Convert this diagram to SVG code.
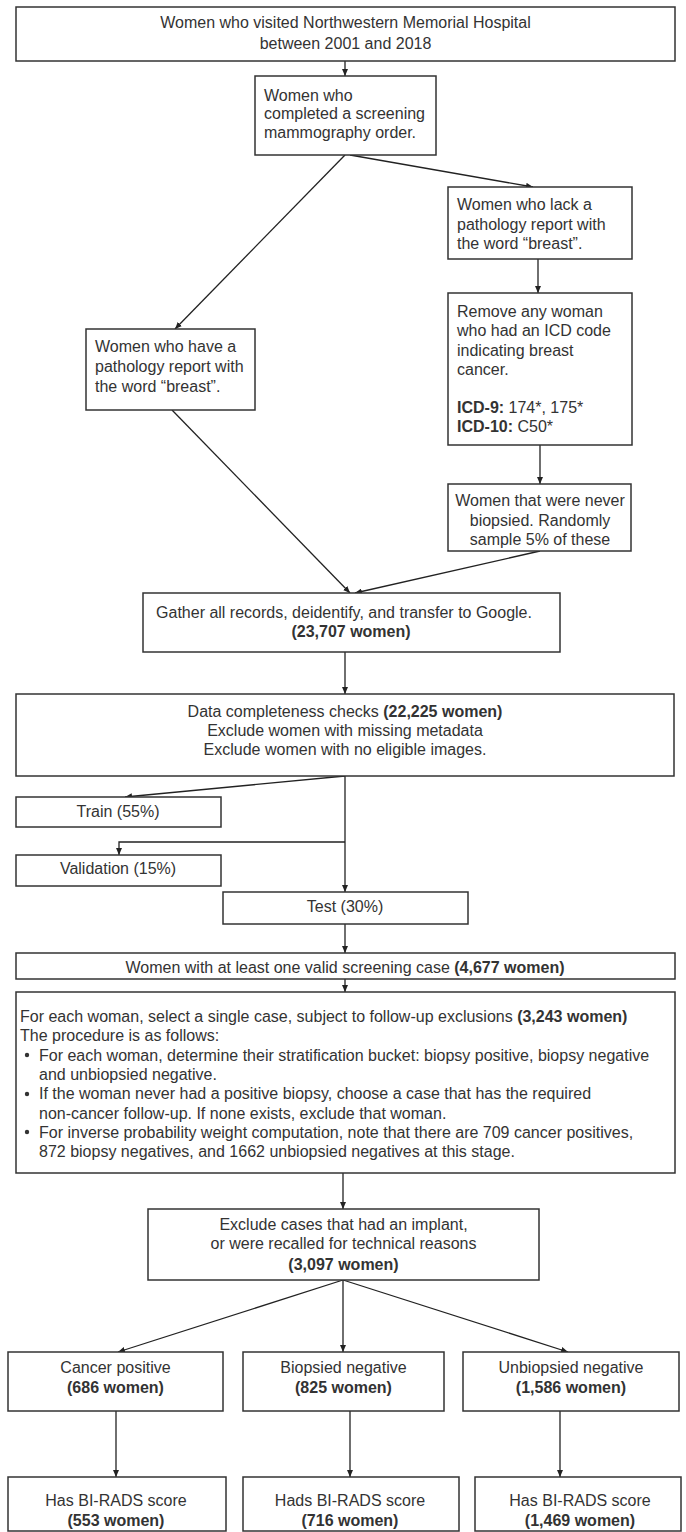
<svg xmlns="http://www.w3.org/2000/svg" width="686" height="1532" viewBox="0 0 686 1532">
<style>
.box{fill:#fff;stroke:#333;stroke-width:1.5}
text{font-family:"Liberation Sans",Arial,sans-serif;font-size:16px;fill:#333}
.c{text-anchor:middle}
.b{font-weight:bold}
.ln{fill:none;stroke:#222;stroke-width:1.3}
</style>
<defs>
<marker id="ah" markerUnits="userSpaceOnUse" markerWidth="8" markerHeight="6" refX="7" refY="3" orient="auto">
<path d="M0,0 L7,3 L0,6 z" fill="#222"/>
</marker>
</defs>
<rect width="686" height="1532" fill="#fff"/>

<g id="connectors" class="ln" marker-end="url(#ah)">
<path d="M345,61 L345,76"/>
<path d="M345,155 L175,329"/>
<path d="M350,155 L533,187"/>
<path d="M538,259 L538,293"/>
<path d="M540,445 L540,484"/>
<path d="M172,410 L350,593"/>
<path d="M540,551 L355,593"/>
<path d="M345,652 L345,694"/>
<path d="M345,776 L125,797"/>
<path d="M345,776 L345,892"/>
<path d="M345,842 L119,842 L119,855"/>
<path d="M345,924 L345,953"/>
<path d="M345,979 L345,992"/>
<path d="M343,1173 L343,1209"/>
<path d="M343,1280 L118,1352"/>
<path d="M343,1280 L343,1352"/>
<path d="M343,1280 L568,1352"/>
<path d="M116,1411 L116,1477"/>
<path d="M350,1411 L350,1477"/>
<path d="M560,1411 L560,1477"/>
</g>

<g id="n1"><rect class="box" x="16" y="7" width="659" height="54"/>
<text class="c" x="345.5" y="28">Women who visited Northwestern Memorial Hospital</text>
<text class="c" x="345.5" y="49">between 2001 and 2018</text></g>

<g id="n2"><rect class="box" x="255" y="76" width="181" height="79"/>
<text x="264" y="101">Women who</text>
<text x="264" y="119">completed a screening</text>
<text x="264" y="138">mammography order.</text></g>

<g id="n3"><rect class="box" x="448" y="187" width="184" height="72"/>
<text x="457" y="210">Women who lack a</text>
<text x="457" y="230">pathology report with</text>
<text x="457" y="249">the word “breast”.</text></g>

<g id="n4"><rect class="box" x="86" y="329" width="169" height="81"/>
<text x="95" y="352">Women who have a</text>
<text x="95" y="372">pathology report with</text>
<text x="95" y="392">the word “breast”.</text></g>

<g id="n5"><rect class="box" x="448" y="293" width="184" height="152"/>
<text x="457" y="317">Remove any woman</text>
<text x="457" y="336">who had an ICD code</text>
<text x="457" y="356">indicating breast</text>
<text x="457" y="375">cancer.</text>
<text x="457" y="413"><tspan class="b">ICD-9:</tspan> 174*, 175*</text>
<text x="457" y="432"><tspan class="b">ICD-10:</tspan> C50*</text></g>

<g id="n6"><rect class="box" x="448" y="484" width="183" height="67"/>
<text class="c" x="540" y="506">Women that were never</text>
<text class="c" x="540" y="526">biopsied. Randomly</text>
<text class="c" x="540" y="545">sample 5% of these</text></g>

<g id="n7"><rect class="box" x="143" y="593" width="417" height="59"/>
<text class="c" x="344" y="618">Gather all records, deidentify, and transfer to Google.</text>
<text class="c b" x="351" y="637">(23,707 women)</text></g>

<g id="n8"><rect class="box" x="16" y="694" width="658" height="82"/>
<text class="c" x="345" y="717">Data completeness checks <tspan class="b">(22,225 women)</tspan></text>
<text class="c" x="345" y="736">Exclude women with missing metadata</text>
<text class="c" x="345" y="755">Exclude women with no eligible images.</text></g>

<g id="n9"><rect class="box" x="16" y="797" width="205" height="30"/>
<text class="c" x="118" y="817">Train (55%)</text></g>

<g id="n10"><rect class="box" x="16" y="855" width="205" height="31"/>
<text class="c" x="118" y="874">Validation (15%)</text></g>

<g id="n11"><rect class="box" x="223" y="892" width="245" height="32"/>
<text class="c" x="345" y="912">Test (30%)</text></g>

<g id="n12"><rect class="box" x="16" y="953" width="659" height="26"/>
<text class="c" x="345" y="973">Women with at least one valid screening case <tspan class="b">(4,677 women)</tspan></text></g>

<g id="n13"><rect class="box" x="16" y="992" width="659" height="181"/>
<text x="20" y="1022">For each woman, select a single case, subject to follow-up exclusions <tspan class="b">(3,243 women)</tspan></text>
<text x="20" y="1041">The procedure is as follows:</text>
<circle cx="27" cy="1055" r="2.2" fill="#333"/>
<text x="39" y="1060.5">For each woman, determine their stratification bucket: biopsy positive, biopsy negative</text>
<text x="39" y="1080">and unbiopsied negative.</text>
<circle cx="27" cy="1094" r="2.2" fill="#333"/>
<text x="39" y="1099">If the woman never had a positive biopsy, choose a case that has the required</text>
<text x="39" y="1118.5">non-cancer follow-up. If none exists, exclude that woman.</text>
<circle cx="27" cy="1132" r="2.2" fill="#333"/>
<text x="39" y="1138">For inverse probability weight computation, note that there are 709 cancer positives,</text>
<text x="39" y="1157">872 biopsy negatives, and 1662 unbiopsied negatives at this stage.</text></g>

<g id="n14"><rect class="box" x="148" y="1209" width="391" height="71"/>
<text class="c" x="343.5" y="1229.5">Exclude cases that had an implant,</text>
<text class="c" x="343.5" y="1248.5">or were recalled for technical reasons</text>
<text class="c b" x="343.5" y="1269.5">(3,097 women)</text></g>

<g id="n15"><rect class="box" x="8" y="1352" width="215" height="59"/>
<text class="c" x="115.5" y="1372.5">Cancer positive</text>
<text class="c b" x="115.5" y="1392.5">(686 women)</text></g>

<g id="n16"><rect class="box" x="243" y="1352" width="201" height="59"/>
<text class="c" x="343.5" y="1372.5">Biopsied negative</text>
<text class="c b" x="343.5" y="1392.5">(825 women)</text></g>

<g id="n17"><rect class="box" x="463" y="1352" width="216" height="59"/>
<text class="c" x="571" y="1372.5">Unbiopsied negative</text>
<text class="c b" x="571" y="1392.5">(1,586 women)</text></g>

<g id="n18"><rect class="box" x="8" y="1477" width="218" height="54"/>
<text class="c" x="116" y="1505.5">Has BI-RADS score</text>
<text class="c b" x="116" y="1525.5">(553 women)</text></g>

<g id="n19"><rect class="box" x="243" y="1477" width="216" height="54"/>
<text class="c" x="350" y="1505.5">Hads BI-RADS score</text>
<text class="c b" x="350" y="1525.5">(716 women)</text></g>

<g id="n20"><rect class="box" x="475" y="1477" width="206" height="54"/>
<text class="c" x="580" y="1505.5">Has BI-RADS score</text>
<text class="c b" x="580" y="1525.5">(1,469 women)</text></g>
</svg>
